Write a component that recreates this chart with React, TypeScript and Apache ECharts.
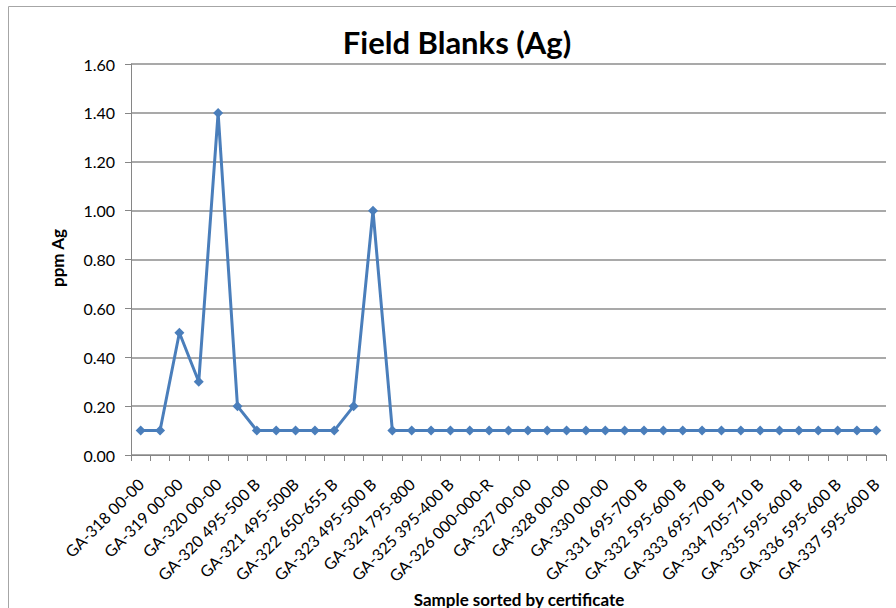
import React, { useEffect, useRef } from "react";
import * as echarts from "echarts";

// Visible sample labels (every other sample is labelled on the axis)
const sampleLabels: string[] = [
  "GA-318 00-00",
  "GA-319 00-00",
  "GA-320 00-00",
  "GA-320 495-500 B",
  "GA-321 495-500B",
  "GA-322 650-655 B",
  "GA-323 495-500 B",
  "GA-324 795-800",
  "GA-325 395-400 B",
  "GA-326 000-000-R",
  "GA-327 00-00",
  "GA-328 00-00",
  "GA-330 00-00",
  "GA-331 695-700 B",
  "GA-332 595-600 B",
  "GA-333 695-700 B",
  "GA-334 705-710 B",
  "GA-335 595-600 B",
  "GA-336 595-600 B",
  "GA-337 595-600 B",
];

// Ag results in ppm, one per sample (39 samples)
const agPpm: number[] = [
  0.1, 0.1, 0.5, 0.3, 1.4, 0.2, 0.1, 0.1, 0.1, 0.1,
  0.1, 0.2, 1.0, 0.1, 0.1, 0.1, 0.1, 0.1, 0.1, 0.1,
  0.1, 0.1, 0.1, 0.1, 0.1, 0.1, 0.1, 0.1, 0.1, 0.1,
  0.1, 0.1, 0.1, 0.1, 0.1, 0.1, 0.1, 0.1, 0.1,
];

const yTicks: number[] = [0, 0.2, 0.4, 0.6, 0.8, 1.0, 1.2, 1.4, 1.6];

// Every sample gets a slot; unlabelled ones carry a blank, unique name
const categories: string[] = agPpm.map((_, i) =>
  i % 2 === 0 ? sampleLabels[i / 2] ?? "" : " ".repeat(Math.ceil(i / 2))
);

const FONT = "Lato, 'Open Sans', sans-serif";

export default function App() {
  const ref = useRef<HTMLDivElement>(null);

  useEffect(() => {
    if (!ref.current) return;
    const chart = echarts.init(ref.current, null, { renderer: "svg" });
    chart.setOption({
      animation: false,
      backgroundColor: "#ffffff",
      textStyle: { fontFamily: FONT },
      graphic: [
        {
          type: "rect",
          shape: { x: 8.5, y: 6.5, width: 900, height: 620 },
          style: { fill: "none", stroke: "#a6a6a6", lineWidth: 1 },
          silent: true,
        },
        {
          type: "text",
          x: 457,
          y: 42,
          style: {
            text: "Field Blanks (Ag)",
            font: `bold 31px ${FONT}`,
            fill: "#000000",
            align: "center",
            verticalAlign: "middle",
          },
        },
        {
          type: "text",
          x: 57,
          y: 258,
          rotation: Math.PI / 2,
          style: {
            text: "ppm Ag",
            font: `bold 17px ${FONT}`,
            fill: "#000000",
            align: "center",
            verticalAlign: "middle",
          },
        },
        {
          type: "text",
          x: 519,
          y: 599,
          style: {
            text: "Sample sorted by certificate",
            font: `bold 17px ${FONT}`,
            fill: "#000000",
            align: "center",
            verticalAlign: "middle",
          },
        },
      ],
      grid: { left: 131, right: 10, top: 64, bottom: 153, containLabel: false },
      xAxis: {
        type: "category",
        data: categories,
        boundaryGap: true,
        axisLine: { lineStyle: { color: "#868686", width: 1 } },
        axisTick: {
          show: true,
          interval: 0,
          length: 6,
          lineStyle: { color: "#868686" },
        },
        axisLabel: {
          interval: 1,
          rotate: 45,
          margin: 26,
          fontSize: 16,
          color: "#000000",
          fontFamily: FONT,
        },
        splitLine: { show: false },
      },
      yAxis: {
        type: "value",
        min: 0,
        max: yTicks[yTicks.length - 1],
        interval: 0.2,
        axisLine: { show: true, lineStyle: { color: "#868686", width: 1 } },
        axisTick: { show: true, length: 6, inside: false, lineStyle: { color: "#868686" } },
        axisLabel: {
          margin: 16,
          fontSize: 16,
          color: "#000000",
          fontFamily: FONT,
          formatter: (v: number) => v.toFixed(2),
        },
        splitLine: { show: true, lineStyle: { color: "#8c8c8c", width: 1.5 } },
      },
      series: [
        {
          type: "line",
          data: agPpm,
          symbol: "diamond",
          symbolSize: 10,
          lineStyle: { color: "#4a7ebb", width: 3 },
          itemStyle: { color: "#4a7ebb" },
        },
      ],
    });
    return () => chart.dispose();
  }, []);

  return <div ref={ref} style={{ width: 896, height: 608, position: "absolute", left: 0, top: 0 }} />;
}
